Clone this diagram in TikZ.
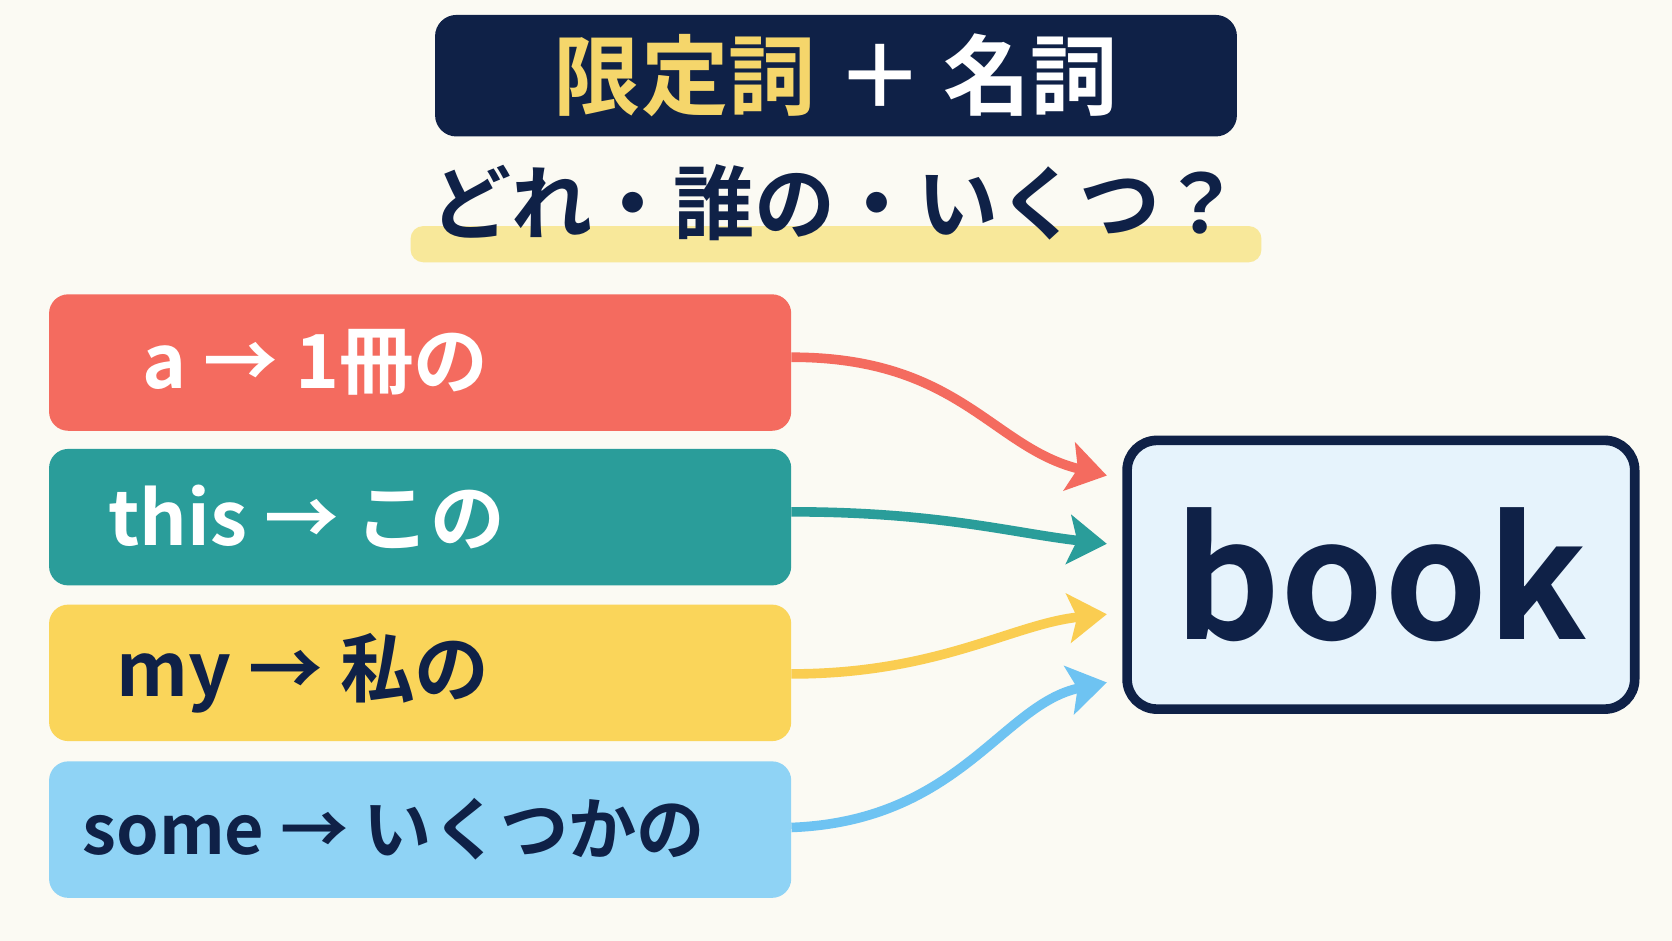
\documentclass[tikz,border=0pt]{standalone}
\usepackage{fontspec}
\setmainfont{Noto Sans CJK JP}[BoldFont={Noto Sans CJK JP Bold}]
\usetikzlibrary{arrows.meta}
\definecolor{bg}{HTML}{FBFAF3}
\definecolor{navy}{HTML}{0F2147}
\definecolor{gold}{HTML}{F5D66B}
\definecolor{hl}{HTML}{F8E89A}
\definecolor{cred}{HTML}{F46B5F}
\definecolor{cteal}{HTML}{2A9D9A}
\definecolor{cyel}{HTML}{FAD55A}
\definecolor{cblue}{HTML}{8FD3F5}
\definecolor{cbluea}{HTML}{6EC3F2}
\definecolor{bookbg}{HTML}{E6F3FC}
\begin{document}
\begin{tikzpicture}[x=1pt,y=-1pt,
  box/.style={rounded corners=18pt,minimum width=696pt,minimum height=128pt,inner sep=0pt},
  lbl/.style={font=\fontsize{70}{74}\selectfont\bfseries},
  arr/.style={line width=9pt,-{Stealth[length=36pt,width=46pt,inset=8pt]}}]
\useasboundingbox (0,0) rectangle (1568,882);
\fill[bg] (0,0) rectangle (1568,882);
\node[fill=navy,rounded corners=20pt,minimum width=752pt,minimum height=114pt,inner sep=0pt] (title) at (784,71)
  {\fontsize{82}{86}\selectfont\bfseries\textcolor{gold}{限定詞}\textcolor{white}{\ ＋\ 名詞}};
\fill[hl,rounded corners=12pt] (385,212) rectangle (1183,246);
\node[text=navy,font=\fontsize{76}{80}\selectfont\bfseries] (sub) at (784,190) {どれ・誰の・いくつ？};
\node[box,fill=cred] (a) at (394,340) {};
\node[lbl,text=white,anchor=west] at (130,340) {a → 1冊の};
\node[box,fill=cteal] (t) at (394,485) {};
\node[lbl,text=white,anchor=west] at (98,485) {this → この};
\node[box,fill=cyel] (m) at (394,631) {};
\node[lbl,text=navy,anchor=west] at (106,631) {my → 私の};
\node[box,fill=cblue] (s) at (394,778) {};
\node[lbl,text=navy,anchor=west,font=\fontsize{64}{68}\selectfont\bfseries] at (74,778) {some → いくつかの};
\node[draw=navy,line width=9pt,fill=bookbg,rounded corners=28pt,minimum width=476pt,minimum height=252pt,inner sep=0pt,
  font=\fontsize{155}{155}\selectfont\bfseries,text=navy] (book) at (1295,539) {book};
\coordinate (ea) at (1038,446);
\coordinate (et) at (1038,510);
\coordinate (em) at (1038,576);
\coordinate (es) at (1038,640);
\draw[arr,cred] (a.east|-0,335) .. controls (900,335) and (930,420) .. (ea);
\draw[arr,cteal] (t.east|-0,480) .. controls (880,480) and (950,500) .. (et);
\draw[arr,cyel!90!orange] (m.east|-0,632) .. controls (880,632) and (950,585) .. (em);
\draw[arr,cbluea] (s.east|-0,776) .. controls (900,770) and (940,660) .. (es);
\end{tikzpicture}
\end{document}
